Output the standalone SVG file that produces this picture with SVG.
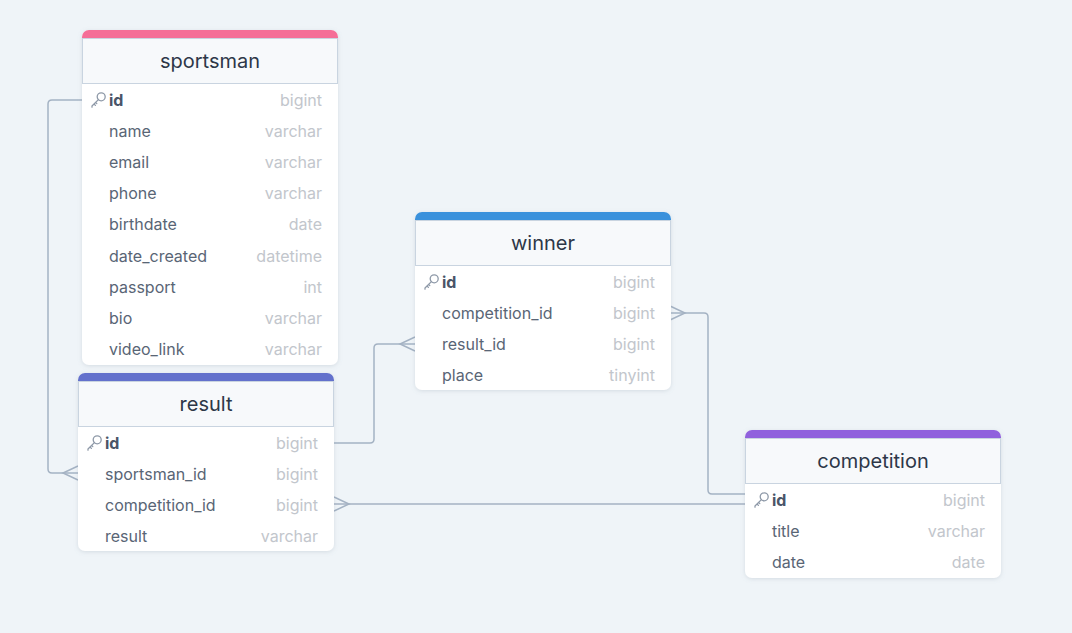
<svg xmlns="http://www.w3.org/2000/svg" width="1072" height="633" viewBox="0 0 1072 633">
<defs>
<style>
.bg{fill:#eff4f8}
.body{fill:#ffffff;filter:url(#sh)}
.head{fill:#f7f9fb;stroke:#c9d4e0;stroke-width:1}
.title{font-family:Inter,"Noto Sans",sans-serif;font-size:20px;fill:#2d3748;text-anchor:middle}
.fname{font-family:Inter,"Noto Sans",sans-serif;font-size:16px;fill:#596575}
.pk{font-weight:bold;fill:#4a5568}
.ftype{font-family:Inter,"Noto Sans",sans-serif;font-size:16px;fill:#c2c6cc;text-anchor:end}
.key{fill:none;stroke:#8e99a8;stroke-width:1.3;stroke-linecap:round;stroke-linejoin:round}
.conn{fill:none;stroke:#a4b2c3;stroke-width:1.5}
</style>
<filter id="sh" x="-10%" y="-10%" width="120%" height="130%">
<feDropShadow dx="0" dy="1" stdDeviation="2" flood-color="#8090a0" flood-opacity="0.25"/>
</filter>
<g id="keyicon">
<circle cx="3.2" cy="-3.2" r="4" class="key"/>
<path d="M0.4,-0.4 L-6,6 L-6,7.2 M-4,4 L-2.6,5.4 M-2.4,2.4 L-1.2,3.6" class="key"/>
</g>
</defs>
<rect class="bg" x="0" y="0" width="1072" height="633"/>

<g id="connectors">
<path class="conn" d="M82,100 H52 Q48,100 48,104 V469 Q48,473 52,473 H78"/>
<path class="conn" d="M78,466 L63,473 L78,480"/>
<path class="conn" d="M334,443 H370 Q374,443 374,439 V348 Q374,344 378,344 H415"/>
<path class="conn" d="M415,337 L400,344 L415,351"/>
<path class="conn" d="M745,494 H712 Q708,494 708,490 V317 Q708,313 704,313 H670"/>
<path class="conn" d="M670,306 L685,313 L670,320"/>
<path class="conn" d="M334,504 H745"/>
<path class="conn" d="M334,497 L349,504 L334,511"/>
</g>

<g id="sportsman">
<rect class="body" x="82" y="30" width="256" height="335" rx="7"/>
<path d="M82,38 V37 A7,7 0 0 1 89,30 H331 A7,7 0 0 1 338,37 V38 Z" fill="#f56e97"/>
<rect class="head" x="82.5" y="38.5" width="255" height="45"/>
<text class="title" x="210" y="68">sportsman</text>
<use href="#keyicon" x="98" y="100"/>
<text class="fname pk" x="109" y="105.5">id</text><text class="ftype" x="322" y="105.5">bigint</text>
<text class="fname" x="109" y="136.5">name</text><text class="ftype" x="322" y="136.5">varchar</text>
<text class="fname" x="109" y="167.5">email</text><text class="ftype" x="322" y="167.5">varchar</text>
<text class="fname" x="109" y="198.5">phone</text><text class="ftype" x="322" y="198.5">varchar</text>
<text class="fname" x="109" y="230">birthdate</text><text class="ftype" x="322" y="230">date</text>
<text class="fname" x="109" y="261.5">date_created</text><text class="ftype" x="322" y="261.5">datetime</text>
<text class="fname" x="109" y="292.5">passport</text><text class="ftype" x="322" y="292.5">int</text>
<text class="fname" x="109" y="323.5">bio</text><text class="ftype" x="322" y="323.5">varchar</text>
<text class="fname" x="109" y="354.5">video_link</text><text class="ftype" x="322" y="354.5">varchar</text>
</g>

<g id="result">
<rect class="body" x="78" y="373" width="256" height="178" rx="7"/>
<path d="M78,381 V380 A7,7 0 0 1 85,373 H327 A7,7 0 0 1 334,380 V381 Z" fill="#6371cc"/>
<rect class="head" x="78.5" y="381.5" width="255" height="45"/>
<text class="title" x="206" y="411">result</text>
<use href="#keyicon" x="94" y="443"/>
<text class="fname pk" x="105" y="448.5">id</text><text class="ftype" x="318" y="448.5">bigint</text>
<text class="fname" x="105" y="479.5">sportsman_id</text><text class="ftype" x="318" y="479.5">bigint</text>
<text class="fname" x="105" y="510.5">competition_id</text><text class="ftype" x="318" y="510.5">bigint</text>
<text class="fname" x="105" y="541.5">result</text><text class="ftype" x="318" y="541.5">varchar</text>
</g>

<g id="winner">
<rect class="body" x="415" y="212" width="256" height="178" rx="7"/>
<path d="M415,220 V219 A7,7 0 0 1 422,212 H664 A7,7 0 0 1 671,219 V220 Z" fill="#3a91dc"/>
<rect class="head" x="415.5" y="220.5" width="255" height="45"/>
<text class="title" x="543" y="250">winner</text>
<use href="#keyicon" x="431" y="282"/>
<text class="fname pk" x="442" y="287.5">id</text><text class="ftype" x="655" y="287.5">bigint</text>
<text class="fname" x="442" y="318.5">competition_id</text><text class="ftype" x="655" y="318.5">bigint</text>
<text class="fname" x="442" y="349.5">result_id</text><text class="ftype" x="655" y="349.5">bigint</text>
<text class="fname" x="442" y="380.5">place</text><text class="ftype" x="655" y="380.5">tinyint</text>
</g>

<g id="competition">
<rect class="body" x="745" y="430" width="256" height="148" rx="7"/>
<path d="M745,438 V437 A7,7 0 0 1 752,430 H994 A7,7 0 0 1 1001,437 V438 Z" fill="#9061dd"/>
<rect class="head" x="745.5" y="438.5" width="255" height="45"/>
<text class="title" x="873" y="468">competition</text>
<use href="#keyicon" x="761" y="500"/>
<text class="fname pk" x="772" y="505.5">id</text><text class="ftype" x="985" y="505.5">bigint</text>
<text class="fname" x="772" y="536.5">title</text><text class="ftype" x="985" y="536.5">varchar</text>
<text class="fname" x="772" y="567.5">date</text><text class="ftype" x="985" y="567.5">date</text>
</g>
</svg>
